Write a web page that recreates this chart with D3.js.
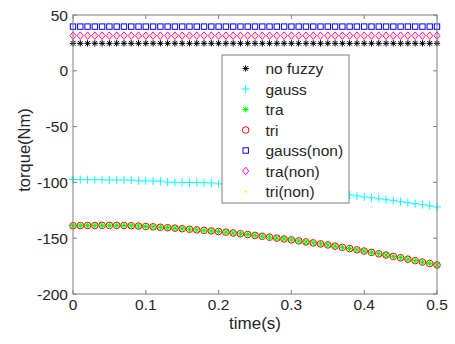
<!DOCTYPE html>
<html><head><meta charset="utf-8">
<script src="https://cdn.jsdelivr.net/npm/d3@7"></script>
<style>body{margin:0;background:#fff}svg{display:block}text{font-family:"Liberation Sans",Arial,sans-serif;fill:#262626}</style>
</head><body><svg id="c" width="455" height="344"></svg>
<script>
const time = d3.range(51).map(i => +(i*0.01).toFixed(2));
const xTicks = [0,0.1,0.2,0.3,0.4,0.5];
const xTickLabels = ["0","0.1","0.2","0.3","0.4","0.5"];
const yTicks = [50,0,-50,-100,-150,-200];
const yTickLabels = ["50","0","-50","-100","-150","-200"];
const seriesNames = ["no fuzzy","gauss","tra","tri","gauss(non)","tra(non)","tri(non)"];
const noFuzzy = Array(51).fill(24.6);
const gaussNon = Array(51).fill(39.6);
const traNon = Array(51).fill(31.5);
const triNon = Array(51).fill(31.5);
const gauss = [-97.5,-97.5,-97.6,-97.6,-97.7,-97.8,-97.8,-97.9,-98.0,
 -98.6,-98.7,-98.8,-98.9,
 -99.8,-99.9,-100.0,-100.1,-100.2,-100.3,-100.5,
 -101.3,-101.6,-102.0,-102.4,-102.8,-103.2,
 -103.7,-104.1,-104.6,-105.0,-105.5,
 -106.1,-106.7,-107.3,-108.0,-108.7,
 -109.5,-110.3,-111.2,-112.1,-113.0,
 -113.8,-114.6,-115.5,-116.4,-117.3,
 -118.2,-119.1,-120.0,-121.0,-122.0];
const tra = [-138.8,-138.7,-138.6,-138.6,-138.5,-138.5,-138.5,-138.6,-138.8,-139.1,
 -139.5,-139.8,-140.2,-140.6,-141.0,-141.5,-142.0,-142.5,-143.0,-143.5,
 -144.0,-144.6,-145.3,-146.0,-146.7,-147.5,-148.3,-149.1,-149.9,-150.7,
 -151.5,-152.4,-153.3,-154.2,-155.1,-156.0,-157.1,-158.2,-159.3,-160.4,
 -161.5,-162.7,-163.9,-165.1,-166.3,-167.5,-168.8,-170.1,-171.4,-172.7,-174.0];
const tri = [-138.8,-138.7,-138.6,-138.6,-138.5,-138.5,-138.5,-138.6,-138.8,-139.1,
 -139.5,-139.8,-140.2,-140.6,-141.0,-141.5,-142.0,-142.5,-143.0,-143.5,
 -144.0,-144.6,-145.3,-146.0,-146.7,-147.5,-148.3,-149.1,-149.9,-150.7,
 -151.5,-152.4,-153.3,-154.2,-155.1,-156.0,-157.1,-158.2,-159.3,-160.4,
 -161.5,-162.7,-163.9,-165.1,-166.3,-167.5,-168.8,-170.1,-171.4,-172.7,-174.0];

const svg = d3.select("#c");
const L=73, R=437, T=15, B=294;
const x = d3.scaleLinear().domain([0,0.5]).range([L,R]);
const y = d3.scaleLinear().domain([-200,50]).range([B,T]);
const axisCol = "#808080";

// markers
function star(g,cx,cy,col,s){
  const p = g.append("g").attr("transform",`translate(${cx},${cy})`).attr("stroke",col).attr("stroke-width",1).attr("fill","none");
  p.append("line").attr("x1",-s).attr("x2",s).attr("y1",0).attr("y2",0);
  p.append("line").attr("x1",0).attr("x2",0).attr("y1",-s).attr("y2",s);
  const d=s*0.72;
  p.append("line").attr("x1",-d).attr("x2",d).attr("y1",-d).attr("y2",d);
  p.append("line").attr("x1",-d).attr("x2",d).attr("y1",d).attr("y2",-d);
}
function plus(g,cx,cy,col,s){
  const p = g.append("g").attr("transform",`translate(${cx},${cy})`).attr("stroke",col).attr("stroke-width",1);
  p.append("line").attr("x1",-s).attr("x2",s).attr("y1",0).attr("y2",0);
  p.append("line").attr("x1",0).attr("x2",0).attr("y1",-s).attr("y2",s);
}
function circ(g,cx,cy,col,r){ g.append("circle").attr("cx",cx).attr("cy",cy).attr("r",r).attr("fill","none").attr("stroke",col).attr("stroke-width",1); }
function square(g,cx,cy,col,s){ g.append("rect").attr("x",cx-s).attr("y",cy-s).attr("width",2*s).attr("height",2*s).attr("fill","none").attr("stroke",col).attr("stroke-width",1); }
function diamond(g,cx,cy,col,s){ g.append("path").attr("d",`M${cx},${cy-s}L${cx+s*0.8},${cy}L${cx},${cy+s}L${cx-s*0.8},${cy}Z`).attr("fill","none").attr("stroke",col).attr("stroke-width",1); }
function dot(g,cx,cy,col,r){ g.append("circle").attr("cx",cx).attr("cy",cy).attr("r",r).attr("fill",col); }

const series = [
  {vals:noFuzzy, f:(g,a,b)=>star(g,a,b,"#000",3.2)},
  {vals:gauss, f:(g,a,b)=>plus(g,a,b,"#00ffff",4)},
  {vals:tri, f:(g,a,b)=>circ(g,a,b,"#ff0000",3.3)},
  {vals:tra, f:(g,a,b)=>star(g,a,b,"#00ff00",3)},
  {vals:gaussNon, f:(g,a,b)=>square(g,a,b,"#0000ff",2.7)},
  {vals:traNon, f:(g,a,b)=>diamond(g,a,b,"#ff00ff",3.8)},
  {vals:triNon, f:(g,a,b)=>dot(g,a,b,"#ffff00",1.3)}
];
const gp = svg.append("g");
series.forEach(s=>{ s.vals.forEach((v,i)=>s.f(gp,x(time[i]),y(v))); });

// axes box
svg.append("rect").attr("x",L).attr("y",T).attr("width",R-L).attr("height",B-T).attr("fill","none").attr("stroke",axisCol).attr("stroke-width",1);
const tk = 4;
xTicks.forEach((t,i)=>{
  svg.append("line").attr("x1",x(t)).attr("x2",x(t)).attr("y1",B).attr("y2",B-tk).attr("stroke",axisCol);
  svg.append("line").attr("x1",x(t)).attr("x2",x(t)).attr("y1",T).attr("y2",T+tk).attr("stroke",axisCol);
  svg.append("text").attr("x",x(t)).attr("y",309.5).attr("text-anchor","middle").attr("font-size",15.5).text(xTickLabels[i]);
});
yTicks.forEach((t,i)=>{
  svg.append("line").attr("x1",L).attr("x2",L+tk).attr("y1",y(t)).attr("y2",y(t)).attr("stroke",axisCol);
  svg.append("line").attr("x1",R).attr("x2",R-tk).attr("y1",y(t)).attr("y2",y(t)).attr("stroke",axisCol);
  svg.append("text").attr("x",68).attr("y",y(t)+5.5).attr("text-anchor","end").attr("font-size",15.5).text(yTickLabels[i]);
});
svg.append("text").attr("x",(L+R)/2).attr("y",329).attr("text-anchor","middle").attr("font-size",17).text("time(s)");
svg.append("text").attr("transform","translate(30,150) rotate(-90)").attr("text-anchor","middle").attr("font-size",16.5).text("torque(Nm)");

// legend
const lg = svg.append("g");
lg.append("rect").attr("x",222).attr("y",55).attr("width",127).attr("height",148).attr("fill","#fff").attr("stroke",axisCol).attr("stroke-width",1);
const legF = [
  (a,b)=>star(lg,a,b,"#000",3.2),
  (a,b)=>plus(lg,a,b,"#00ffff",4),
  (a,b)=>star(lg,a,b,"#00ff00",3),
  (a,b)=>circ(lg,a,b,"#ff0000",3.3),
  (a,b)=>square(lg,a,b,"#0000ff",2.7),
  (a,b)=>diamond(lg,a,b,"#ff00ff",3.8),
  (a,b)=>dot(lg,a,b,"#ffff00",1.3)
];
seriesNames.forEach((n,i)=>{
  const cy = 68.5 + i*20.5;
  legF[i](245.7, cy);
  lg.append("text").attr("x",265.5).attr("y",cy+5.5).attr("font-size",15.5).text(n);
});
</script></body></html>
